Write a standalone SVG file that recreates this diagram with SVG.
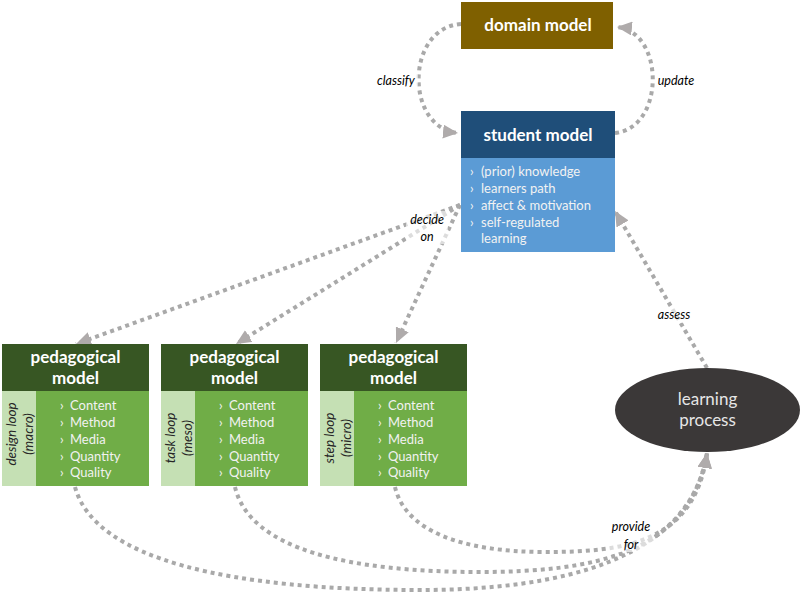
<svg xmlns="http://www.w3.org/2000/svg" width="804" height="598" viewBox="0 0 804 598">
<defs>
<style>
.hdr{font-family:Lato,"Open Sans","Noto Sans",sans-serif;font-weight:bold;font-size:17px;fill:#FFFFFF;text-anchor:middle}
.item{font-family:Lato,"Open Sans","Noto Sans",sans-serif;font-size:13px;fill:#F2F2F2}
.strip{font-family:Lato,"Open Sans","Noto Sans",sans-serif;font-style:italic;font-size:13.5px;fill:#262626;text-anchor:middle}
.lbl{font-family:Lato,"Open Sans","Noto Sans",sans-serif;font-style:italic;font-size:12.5px;fill:#000000;text-anchor:middle}
.conn{fill:none;stroke:#A9A9A9;stroke-width:4;stroke-dasharray:4 4}
.lp{font-family:Lato,"Open Sans","Noto Sans",sans-serif;font-size:17px;fill:#E6E6E6;text-anchor:middle}
</style>
<marker id="arr" markerUnits="userSpaceOnUse" markerWidth="16" markerHeight="14" viewBox="0 0 16 14" refX="15" refY="7" orient="auto">
<path d="M0,0 L15,7 L0,14 Z" fill="#AFABAB"/>
</marker>
</defs>

<g id="connectors">
<path class="conn" d="M461,24 C405,28 405,128 458,133" marker-end="url(#arr)"/>
<path class="conn" d="M615,133 C665,128 665,32 617,27" marker-end="url(#arr)"/>
<path class="conn" d="M460,205 L76,344" marker-end="url(#arr)"/>
<path class="conn" d="M460,205 L236,344" marker-end="url(#arr)"/>
<path class="conn" d="M460,205 L396,343" marker-end="url(#arr)"/>
<path class="conn" d="M707,368 L615,211" marker-end="url(#arr)"/>
<path class="conn" d="M75,487 C95,560 230,590 420,590 C560,590 690,560 707,453" marker-end="url(#arr)"/>
<path class="conn" d="M235,487 C250,550 350,572 480,572 C590,572 690,555 707,453" marker-end="url(#arr)"/>
<path class="conn" d="M395,487 C405,530 460,552 545,552 C620,552 695,545 707,453" marker-end="url(#arr)"/>
</g>

<g id="labels">
<rect x="374" y="72" width="44" height="16" fill="#FFFFFF" fill-opacity="0.6"/>
<text class="lbl" x="396" y="85">classify</text>
<rect x="655" y="72" width="42" height="16" fill="#FFFFFF" fill-opacity="0.6"/>
<text class="lbl" x="676" y="85">update</text>
<rect x="406" y="211" width="42" height="33" fill="#FFFFFF" fill-opacity="0.6"/>
<text class="lbl" x="427" y="224">decide</text>
<text class="lbl" x="427" y="241">on</text>
<rect x="654" y="307" width="40" height="16" fill="#FFFFFF" fill-opacity="0.6"/>
<text class="lbl" x="674" y="319">assess</text>
<rect x="608" y="518" width="46" height="34" fill="#FFFFFF" fill-opacity="0.6"/>
<text class="lbl" x="631" y="531">provide</text>
<text class="lbl" x="631" y="549">for</text>
</g>

<g id="domain-model">
<rect x="461" y="2" width="152" height="47" fill="#7F6000"/>
<text class="hdr" x="538" y="31">domain model</text>
</g>

<g id="student-model">
<rect x="461" y="111" width="154" height="47" fill="#1F4E79"/>
<rect x="461" y="158" width="154" height="94" fill="#5B9BD5"/>
<text class="hdr" x="538" y="141">student model</text>
<text class="item" x="470" y="176">›</text><text class="item" x="481" y="176">(prior) knowledge</text>
<text class="item" x="470" y="193">›</text><text class="item" x="481" y="193">learners path</text>
<text class="item" x="470" y="210">›</text><text class="item" x="481" y="210">affect &amp; motivation</text>
<text class="item" x="470" y="227">›</text><text class="item" x="481" y="227">self-regulated</text>
<text class="item" x="481" y="243">learning</text>
</g>

<g id="pedagogical-model-macro">
<rect x="2" y="344" width="147" height="47" fill="#375623"/>
<rect x="2" y="391" width="34" height="95" fill="#C5E0B4"/>
<rect x="36" y="391" width="113" height="95" fill="#70AD47"/>
<text class="hdr" x="75.5" y="363">pedagogical</text>
<text class="hdr" x="75.5" y="384">model</text>
<text class="strip" transform="translate(16,434) rotate(-90)">design loop</text>
<text class="strip" transform="translate(33,434) rotate(-90)">(macro)</text>
<text class="item" x="60" y="410">›</text><text class="item" x="70" y="410">Content</text>
<text class="item" x="60" y="427">›</text><text class="item" x="70" y="427">Method</text>
<text class="item" x="60" y="444">›</text><text class="item" x="70" y="444">Media</text>
<text class="item" x="60" y="461">›</text><text class="item" x="70" y="461">Quantity</text>
<text class="item" x="60" y="477">›</text><text class="item" x="70" y="477">Quality</text>
</g>

<g id="pedagogical-model-meso">
<rect x="161" y="344" width="147" height="47" fill="#375623"/>
<rect x="161" y="391" width="34" height="95" fill="#C5E0B4"/>
<rect x="195" y="391" width="113" height="95" fill="#70AD47"/>
<text class="hdr" x="234.5" y="363">pedagogical</text>
<text class="hdr" x="234.5" y="384">model</text>
<text class="strip" transform="translate(175,438) rotate(-90)">task loop</text>
<text class="strip" transform="translate(192,438) rotate(-90)">(meso)</text>
<text class="item" x="219" y="410">›</text><text class="item" x="229" y="410">Content</text>
<text class="item" x="219" y="427">›</text><text class="item" x="229" y="427">Method</text>
<text class="item" x="219" y="444">›</text><text class="item" x="229" y="444">Media</text>
<text class="item" x="219" y="461">›</text><text class="item" x="229" y="461">Quantity</text>
<text class="item" x="219" y="477">›</text><text class="item" x="229" y="477">Quality</text>
</g>

<g id="pedagogical-model-micro">
<rect x="320" y="344" width="147" height="47" fill="#375623"/>
<rect x="320" y="391" width="34" height="95" fill="#C5E0B4"/>
<rect x="354" y="391" width="113" height="95" fill="#70AD47"/>
<text class="hdr" x="393.5" y="363">pedagogical</text>
<text class="hdr" x="393.5" y="384">model</text>
<text class="strip" transform="translate(334,438) rotate(-90)">step loop</text>
<text class="strip" transform="translate(351,438) rotate(-90)">(micro)</text>
<text class="item" x="378" y="410">›</text><text class="item" x="388" y="410">Content</text>
<text class="item" x="378" y="427">›</text><text class="item" x="388" y="427">Method</text>
<text class="item" x="378" y="444">›</text><text class="item" x="388" y="444">Media</text>
<text class="item" x="378" y="461">›</text><text class="item" x="388" y="461">Quantity</text>
<text class="item" x="378" y="477">›</text><text class="item" x="388" y="477">Quality</text>
</g>

<g id="learning-process">
<ellipse cx="707.5" cy="410" rx="92.5" ry="42" fill="#3B3838"/>
<text class="lp" x="707.5" y="405">learning</text>
<text class="lp" x="707.5" y="426">process</text>
</g>
</svg>
